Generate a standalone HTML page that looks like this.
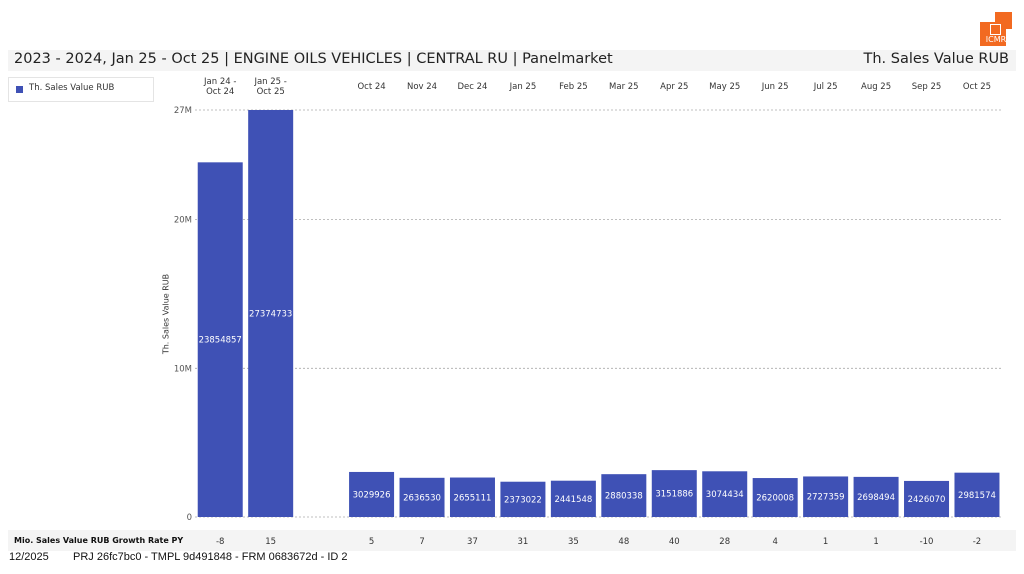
<!DOCTYPE html>
<html><head><meta charset="utf-8"><style>
body{margin:0;width:1024px;height:574px;background:#fff;font-family:"DejaVu Sans","Liberation Sans",sans-serif;position:relative;overflow:hidden}
.a{position:absolute}
</style></head><body>
<div class="a" style="left:980px;top:12px;width:32px;height:34px">
<div class="a" style="left:0;top:10px;width:26px;height:24px;background:#f26a21"></div>
<div class="a" style="left:15px;top:0;width:17px;height:17px;background:#f26a21"></div>
<div class="a" style="left:10px;top:12px;width:9px;height:9px;background:#f26a21;border:1px solid #fff"></div>
<div class="a" style="left:0;top:23px;width:32px;font-size:8px;color:#fff;text-align:center">ICMR</div>
</div>
<div class="a" style="left:8px;top:50px;width:1008px;height:21px;background:#f4f4f4"></div>
<div class="a" style="left:14px;top:51px;font-size:14.5px;color:#222">2023 - 2024, Jan 25 - Oct 25 | ENGINE OILS VEHICLES | CENTRAL RU | Panelmarket</div>
<div class="a" style="right:15px;top:51px;font-size:14.5px;color:#222">Th. Sales Value RUB</div>
<div class="a" style="left:8px;top:77px;width:144px;height:23px;border:1px solid #e4e4e4">
<div class="a" style="left:7px;top:8px;width:7px;height:7px;background:#3f51b5"></div>
<div class="a" style="left:20px;top:5px;font-size:8.5px;color:#333">Th. Sales Value RUB</div>
</div>
<div class="a" style="left:166px;top:314px;font-size:8px;color:#333;transform:translate(-50%,-50%) rotate(-90deg);white-space:nowrap">Th. Sales Value RUB</div>
<div class="a" style="left:8px;top:530px;width:1008px;height:21px;background:#f4f4f4"></div>
<div class="a" style="left:14px;top:536px;font-size:8px;font-weight:bold;color:#111">Mio. Sales Value RUB Growth Rate PY</div>
<div class="a" style="left:9px;top:551px;font-size:11px;font-family:'Liberation Sans',sans-serif;color:#111">12/2025</div>
<div class="a" style="left:73px;top:551px;font-size:11px;font-family:'Liberation Sans',sans-serif;color:#111">PRJ 26fc7bc0 - TMPL 9d491848 - FRM 0683672d - ID 2</div>
<svg class="a" style="left:0;top:0" width="1024" height="574" id="chart"></svg>
<script>
const categories=["Jan 24 -|Oct 24","Jan 25 -|Oct 25","","Oct 24","Nov 24","Dec 24","Jan 25","Feb 25","Mar 25","Apr 25","May 25","Jun 25","Jul 25","Aug 25","Sep 25","Oct 25"];
const values=[23854857,27374733,null,3029926,2636530,2655111,2373022,2441548,2880338,3151886,3074434,2620008,2727359,2698494,2426070,2981574];
const growth=["-8","15","","5","7","37","31","35","48","40","28","4","1","1","-10","-2"];
const ticks=[0,10000000,20000000,27374733];
const tickLabels=["0","10M","20M","27M"];
const svg=document.getElementById('chart');const NS='http://www.w3.org/2000/svg';
const x0=195,slot=50.45,yBase=517,yTop=110;
const yMax=Math.max(...values.filter(v=>v!=null));
const y=v=>yBase-(v/yMax)*(yBase-yTop);
function mk(t,a,txt){const e=document.createElementNS(NS,t);for(const k in a)e.setAttribute(k,a[k]);if(txt!=null)e.textContent=txt;svg.appendChild(e);return e;}
ticks.forEach((t,i)=>{const yy=Math.min(y(t),yBase);
const l=mk('line',{x1:x0,x2:1003,y1:yy,y2:yy,stroke:'#aaa','stroke-dasharray':'2,2','stroke-width':0.8});


const tx=mk('text',{x:x0-3,y:yy+3,'text-anchor':'end','font-size':8.5,fill:'#555'},tickLabels[i]);

});
categories.forEach((c,i)=>{const cx=x0+slot*(i+0.5);
const parts=c.split('|');parts.forEach((p,j)=>{if(!p)return;const t=mk('text',{x:cx,y:(parts.length>1?84:89)+j*10,'text-anchor':'middle','font-size':8.5,fill:'#333'},p);

});
const v=values[i];if(v!=null){const r=mk('rect',{x:cx-22.5,y:y(v),width:45,height:yBase-y(v),fill:'#3f51b5'});


const t=mk('text',{x:cx,y:(y(v)+yBase)/2+3,'text-anchor':'middle','font-size':8.5,fill:'#fff'},String(v));

}
if(growth[i]){const g=mk('text',{x:cx,y:544,'text-anchor':'middle','font-size':8.5,fill:'#333'},growth[i]);

}});
</script>
</body></html>
